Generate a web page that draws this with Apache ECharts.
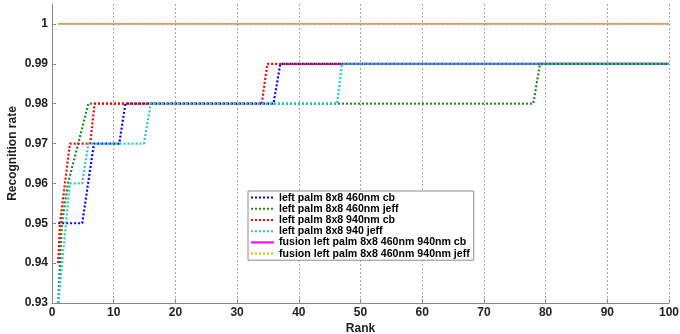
<!DOCTYPE html>
<html>
<head>
<meta charset="utf-8">
<script src="https://cdn.jsdelivr.net/npm/echarts@6/dist/echarts.min.js"></script>
<style>
html,body{margin:0;padding:0;background:#fff;}
#chart{width:680px;height:334px;}
</style>
</head>
<body>
<div id="chart"></div>
<script>
// Breakpoints (rank, recognition rate)
const blueRank  = [1, 4.9, 6.8, 10.9, 11.9, 35.9, 37, 100];
const blueRate  = [0.95, 0.95, 0.97, 0.97, 0.98, 0.98, 0.99, 0.99];
const greenRank = [1, 1.6, 2.6, 5.9, 78, 79.1, 100];
const greenRate = [0.93, 0.95, 0.96, 0.98, 0.98, 0.99, 0.99];
const redRank   = [1, 1.3, 2.9, 6.2, 6.9, 34, 34.9, 100];
const redRate   = [0.94, 0.95, 0.97, 0.97, 0.98, 0.98, 0.99, 0.99];
const cyanRank  = [1, 2.9, 4.9, 5.9, 14.9, 16, 46.2, 47, 100];
const cyanRate  = [0.93, 0.96, 0.96, 0.97, 0.97, 0.98, 0.98, 0.99, 0.99];
const fusionCbRank   = [1, 100];
const fusionCbRate   = [1, 1];
const fusionJeffRank = [1, 100];
const fusionJeffRate = [1, 1];

const seriesNames = [
  'left palm 8x8 460nm cb',
  'left palm 8x8 460nm jeff',
  'left palm 8x8 940nm cb',
  'left palm 8x8 940 jeff',
  'fusion left palm 8x8 460nm 940nm cb',
  'fusion left palm 8x8 460nm 940nm jeff'
];
const seriesColors = ['#0000ff', '#1e8c1e', '#ff0000', '#1ccccc', '#ff00ff', '#c8bf00'];

const yTicks = [0.93, 0.94, 0.95, 0.96, 0.97, 0.98, 0.99, 1.0];
const yTickLabels = ['0.93', '0.94', '0.95', '0.96', '0.97', '0.98', '0.99', '1'];
const xTicks = [0, 10, 20, 30, 40, 50, 60, 70, 80, 90, 100];

function pairs(xs, ys) { return xs.map((x, i) => [x, ys[i]]); }

const seriesData = [
  pairs(blueRank, blueRate),
  pairs(greenRank, greenRate),
  pairs(redRank, redRate),
  pairs(cyanRank, cyanRate),
  pairs(fusionCbRank, fusionCbRate),
  pairs(fusionJeffRank, fusionJeffRate)
];

const font = 'Arial, "Liberation Sans", sans-serif';
const chart = echarts.init(document.getElementById('chart'));

const series = seriesNames.map((name, i) => ({
  name: name,
  type: 'line',
  data: seriesData[i],
  symbol: 'none',
  animation: false,
  lineStyle: i === 4
    ? { color: seriesColors[i], width: 1, type: 'solid' }
    : { color: seriesColors[i], width: 2.2, type: [2, 2] },
  itemStyle: { color: seriesColors[i] },
  z: 2 + i
}));

chart.setOption({
  animation: false,
  grid: { left: 52, right: 11, top: 4, bottom: 31, containLabel: false, outerBoundsMode: 'none' },
  xAxis: {
    type: 'value',
    min: 0, max: 100, interval: 10,
    name: 'Rank',
    nameLocation: 'middle',
    nameGap: 20,
    nameMoveOverlap: false,
    nameTextStyle: { fontFamily: font, fontWeight: 'bold', fontSize: 12, color: '#222' },
    axisLine: { show: true, onZero: false, lineStyle: { color: '#888', width: 1 } },
    axisTick: { show: true, inside: true, length: 4, lineStyle: { color: '#888' }, customValues: xTicks },
    axisLabel: { margin: 4, fontFamily: font, fontWeight: 'bold', fontSize: 12, color: '#222', customValues: xTicks },
    splitLine: { show: true, lineStyle: { color: '#a8a8a8', type: [2, 2], width: 1 } }
  },
  yAxis: {
    type: 'value',
    min: 0.93, max: 1.005, interval: 0.01,
    name: 'Recognition rate',
    nameLocation: 'middle',
    nameGap: 33,
    nameMoveOverlap: false,
    nameTextStyle: { fontFamily: font, fontWeight: 'bold', fontSize: 12, color: '#222' },
    axisLine: { show: true, lineStyle: { color: '#888', width: 1 } },
    axisTick: { show: true, inside: true, length: 4, lineStyle: { color: '#888' }, customValues: yTicks },
    axisLabel: {
      margin: 4, fontFamily: font, fontWeight: 'bold', fontSize: 12, color: '#222',
      customValues: yTicks,
      formatter: function (v) {
        const k = yTicks.findIndex(t => Math.abs(t - v) < 1e-6);
        return k >= 0 ? yTickLabels[k] : '';
      }
    },
    splitLine: { show: false }
  },
  legend: {
    orient: 'vertical',
    left: 248, top: 191,
    itemWidth: 23, itemHeight: 14, itemGap: 0,
    padding: [1, 4, 1, 2],
    borderColor: '#8c8c8c', borderWidth: 1,
    backgroundColor: '#fff',
    itemStyle: { opacity: 0 },
    textStyle: { fontFamily: font, fontWeight: 'bold', fontSize: 10.6, color: '#000' },
    data: seriesNames
  },
  series: series
});
</script>
</body>
</html>
